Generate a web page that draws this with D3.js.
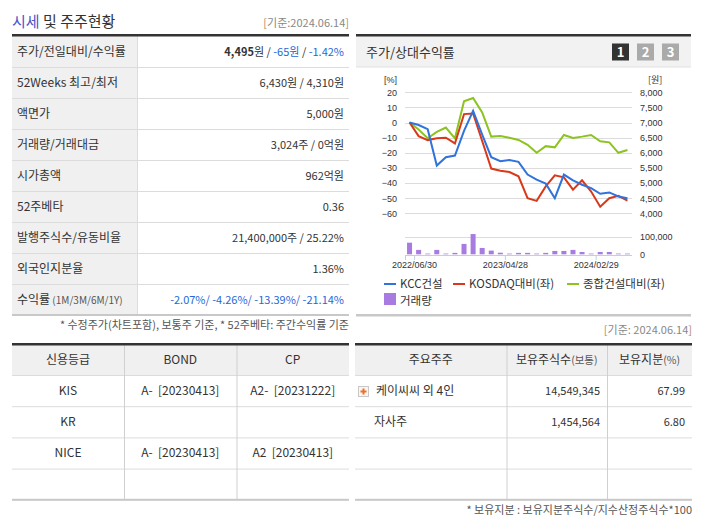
<!DOCTYPE html>
<html>
<head>
<meta charset="utf-8">
<script src="https://cdn.jsdelivr.net/npm/d3@7"></script>
<style>
  body { margin: 0; background: #fff; }
  text { font-family: "Noto Sans CJK KR", sans-serif; white-space: pre; }
  .num text, text.num { font-family: "Liberation Sans", "Noto Sans CJK KR", sans-serif; }
</style>
</head>
<body>
<div id="chart"></div>
<script>
// ---- chart data (month-end closes) ----
const monthEnds = ["2022/05/31","2022/06/30","2022/07/29","2022/08/31","2022/09/30","2022/10/31","2022/11/30","2022/12/29",
  "2023/01/31","2023/02/28","2023/03/31","2023/04/28","2023/05/31","2023/06/30","2023/07/31","2023/08/31","2023/09/27",
  "2023/10/31","2023/11/30","2023/12/28","2024/01/31","2024/02/29","2024/03/29","2024/04/30","2024/05/31"];
const labeledTicks = [0, 1, 11, 21];
const kccPrice = [7000,6920,6780,5580,5855,5910,6725,7390,6600,5855,5720,5765,5700,5280,5110,4980,4500,5280,5090,4945,4835,4645,4690,4555,4495];
const kosdaqRel = [0,-9,-11.6,-10.4,-10,-13.8,5.6,6,-12.2,-30.4,-31.8,-32.7,-35.5,-50,-51.8,-42.2,-34.9,-36.2,-44.4,-38.2,-45.6,-55.6,-50,-48.4,-51.6];
const constrRel = [0,-4.6,-10.4,-6.2,-3.3,-10.4,14,16.2,6.7,-9.3,-8.9,-10,-11.5,-14.7,-20,-15.6,-16.4,-8.2,-10.2,-9.3,-8.2,-12.4,-13.1,-20,-18.2];
const volume = [66000,25000,4000,25000,4000,8000,59000,115000,36000,21000,9000,4000,8000,8000,4000,8000,19000,19000,25000,13000,4000,13000,13000,4000,4000];
const pctTicks = [20,10,0,-10,-20,-30,-40,-50,-60];
const priceTicks = [8000,7500,7000,6500,6000,5500,5000,4500,4000];
const volTicks = [100000, 0];

// ---- table data ----
const infoLabels = ["주가/전일대비/수익률","52Weeks 최고/최저","액면가","거래량/거래대금","시가총액","52주베타","발행주식수/유동비율","외국인지분율","수익률"];
const infoValues = [
  [["4,495","b"],["원 / ",""],["-65원","blue"],[" / ",""],["-1.42%","blue"]],
  [["6,430원 / 4,310원",""]],
  [["5,000원",""]],
  [["3,024주 / 0억원",""]],
  [["962억원",""]],
  [["0.36",""]],
  [["21,400,000주 / 25.22%",""]],
  [["1.36%",""]],
  [["-2.07%/ -4.26%/ -13.39%/ -21.14%","blue"]]
];
const creditHeader = ["신용등급","BOND","CP"];
const creditRows = [["KIS","A-  [20230413]","A2-  [20231222]"],["KR","",""],["NICE","A-  [20230413]","A2  [20230413]"],["","",""]];
const holderHeader = ["주요주주","보유주식수","보유지분"];
const holderHeaderSub = ["","(보통)","(%)"];
const holderRows = [["케이씨씨 외 4인","14,549,345","67.99"],["자사주","1,454,564","6.80"],["","",""],["","",""]];

const BLUE_TXT = "#2468d8", DARK = "#333", GRID = "#dcdcdc", LBG = "#f0f0f0";

const svg = d3.select("#chart").append("svg").attr("width", 702).attr("height", 525);

// ================= left: 시세 및 주주현황 =================
const title = svg.append("text").attr("x", 12).attr("y", 27).attr("font-size", 15);
title.append("tspan").attr("fill", "#4a52c8").text("시세");
title.append("tspan").attr("fill", DARK).text(" 및 주주현황");
const basis = svg.append("text").attr("x", 349).attr("y", 27).attr("text-anchor", "end").attr("font-size", 11).attr("fill", "#888");
basis.append("tspan").attr("fill", "#b08a60").text("[");
basis.append("tspan").text("기준:2024.06.14");
basis.append("tspan").attr("fill", "#b08a60").text("]");

const rowTop = 36, rowH = 31;
const info = svg.append("g");
info.append("rect").attr("x", 12).attr("y", rowTop).attr("width", 125.5).attr("height", rowH * 9).attr("fill", LBG);
infoLabels.forEach((lab, i) => {
  const y = rowTop + i * rowH;
  if (i > 0) info.append("line").attr("x1", 12).attr("x2", 349).attr("y1", y + 0.5).attr("y2", y + 0.5).attr("stroke", GRID);
  const t = info.append("text").attr("x", 17).attr("y", y + 20).attr("font-size", 12).attr("fill", DARK).text(lab);
  if (i === 8) t.append("tspan").attr("font-size", 10).attr("fill", "#555").text(" (1M/3M/6M/1Y)");
  const v = info.append("text").attr("x", 344).attr("y", y + 20).attr("text-anchor", "end").attr("font-size", 11).attr("fill", DARK);
  infoValues[i].forEach(([s, st]) => {
    v.append("tspan").text(s)
      .attr("fill", st === "blue" ? BLUE_TXT : DARK)
      .attr("font-weight", st === "b" ? "bold" : null);
  });
});
info.append("line").attr("x1", 137.5).attr("x2", 137.5).attr("y1", rowTop).attr("y2", rowTop + rowH * 9).attr("stroke", GRID);
svg.append("rect").attr("x", 12).attr("y", 34).attr("width", 337).attr("height", 2.5).attr("fill", DARK);
svg.append("rect").attr("x", 12).attr("y", 314).attr("width", 337).attr("height", 2).attr("fill", "#c8c8c8");
svg.append("text").attr("x", 349).attr("y", 329).attr("text-anchor", "end").attr("font-size", 11).attr("fill", "#555")
  .text("* 수정주가(차트포함), 보통주 기준, * 52주베타: 주간수익률 기준");

// ================= right: 주가/상대수익률 chart =================
svg.append("rect").attr("x", 356).attr("y", 36).attr("width", 335).attr("height", 31).attr("fill", "#f2f2f2");
svg.append("line").attr("x1", 356).attr("x2", 691).attr("y1", 67).attr("y2", 67).attr("stroke", "#e0e0e0");
svg.append("rect").attr("x", 356).attr("y", 34).attr("width", 335).attr("height", 2.5).attr("fill", DARK);
svg.append("text").attr("x", 366).attr("y", 57).attr("font-size", 13).attr("fill", DARK).text("주가/상대수익률");
[["1", "#333"], ["2", "#aaa"], ["3", "#aaa"]].forEach(([n, c], i) => {
  const bx = 612 + i * 25;
  svg.append("rect").attr("x", bx).attr("y", 43.5).attr("width", 17).attr("height", 17).attr("fill", c);
  svg.append("text").attr("x", bx + 8.5).attr("y", 56.5).attr("text-anchor", "middle").attr("font-size", 13)
    .attr("font-weight", "bold").attr("fill", "#fff").attr("font-family", "Liberation Sans").text(n);
});
svg.append("rect").attr("x", 356).attr("y", 314).attr("width", 335).attr("height", 2.5).attr("fill", "#c8c8c8");

const x = d3.scaleLinear().domain([0, monthEnds.length]).range([405, 632]);
const yPct = d3.scaleLinear().domain([-60, 20]).range([213.3, 92.3]);
const yPrice = d3.scaleLinear().domain([4000, 8000]).range([213.3, 92.3]);
const yVol = d3.scaleLinear().domain([0, 100000]).range([254.3, 236.7]);
const cx = i => x(i + 0.5);

const plot = svg.append("g");
plot.selectAll(".grid").data(pctTicks).join("line")
  .attr("x1", 405).attr("x2", 632).attr("y1", d => Math.round(yPct(d)) + 0.5).attr("y2", d => Math.round(yPct(d)) + 0.5)
  .attr("stroke", GRID);
plot.append("line").attr("x1", 405).attr("x2", 632).attr("y1", Math.round(yVol(100000)) + 0.5).attr("y2", Math.round(yVol(100000)) + 0.5).attr("stroke", GRID);

const axL = svg.append("g").attr("class", "num").attr("transform", "translate(399,0)")
  .call(d3.axisLeft(yPct).tickValues(pctTicks).tickSize(0).tickPadding(2));
const axR = svg.append("g").attr("class", "num").attr("transform", "translate(638,0)")
  .call(d3.axisRight(yPrice).tickValues(priceTicks).tickSize(0).tickPadding(2).tickFormat(d3.format(",")));
const axV = svg.append("g").attr("class", "num").attr("transform", "translate(638,0)")
  .call(d3.axisRight(yVol).tickValues(volTicks).tickSize(0).tickPadding(2).tickFormat(d3.format(",")));
[axL, axR, axV].forEach(a => {
  a.select(".domain").remove();
  a.selectAll("text").attr("font-size", 9).attr("fill", DARK);
});
svg.append("text").attr("class", "num").attr("x", 397).attr("y", 83).attr("text-anchor", "end").attr("font-size", 9).attr("fill", DARK).text("[%]");
svg.append("text").attr("x", 648).attr("y", 83).attr("font-size", 9).attr("fill", DARK).text("[원]");

// volume bars
plot.selectAll(".vol").data(volume).join("rect")
  .attr("x", (d, i) => cx(i) - 2.5).attr("width", 5)
  .attr("y", d => yVol(d)).attr("height", d => yVol(0) - yVol(d))
  .attr("fill", "#a77be0");

// x axis
const axX = svg.append("g").attr("class", "num").attr("transform", "translate(0,255)")
  .call(d3.axisBottom(x).tickValues(labeledTicks).tickSize(5).tickPadding(2)
    .tickFormat(i => i === 0 ? "" : monthEnds[i]));
axX.select(".domain").attr("stroke", "#c5cde0").attr("d", "M405,0.5H632");
axX.selectAll(".tick line").attr("stroke", "#c5cde0");
axX.selectAll("text").attr("font-size", 9).attr("fill", DARK);

// lines
const lineGen = (yScale) => d3.line().x((d, i) => cx(i)).y(d => yScale(d));
plot.append("path").datum(constrRel).attr("d", lineGen(yPct)).attr("fill", "none").attr("stroke", "#8cc31f").attr("stroke-width", 2);
plot.append("path").datum(kosdaqRel).attr("d", lineGen(yPct)).attr("fill", "none").attr("stroke", "#d9391a").attr("stroke-width", 2);
plot.append("path").datum(kccPrice).attr("d", lineGen(yPrice)).attr("fill", "none").attr("stroke", "#2f73db").attr("stroke-width", 2);

// legend
const legendItems = [
  { name: "KCC건설", color: "#2f73db", x: 384, y: 288, type: "line" },
  { name: "KOSDAQ대비(좌)", color: "#d9391a", x: 453, y: 288, type: "line" },
  { name: "종합건설대비(좌)", color: "#8cc31f", x: 567, y: 288, type: "line" },
  { name: "거래량", color: "#a77be0", x: 384, y: 305, type: "box" }
];
legendItems.forEach(it => {
  if (it.type === "line") {
    svg.append("line").attr("x1", it.x).attr("x2", it.x + 12).attr("y1", it.y - 4).attr("y2", it.y - 4).attr("stroke", it.color).attr("stroke-width", 2);
  } else {
    svg.append("rect").attr("x", it.x).attr("y", it.y - 12).attr("width", 12).attr("height", 12).attr("fill", it.color);
  }
  svg.append("text").attr("x", it.x + 16).attr("y", it.y).attr("font-size", 11.5).attr("fill", DARK).text(it.name);
});

// ================= bottom tables =================
const tTop = 344, hdrH = 31, bodyRowH = 31.2;
function drawTable(x0, x1, cols, header, headerSub, rows, aligns) {
  const g = svg.append("g");
  g.append("rect").attr("x", x0).attr("y", tTop).attr("width", x1 - x0).attr("height", hdrH).attr("fill", LBG);
  const edges = [x0, ...cols, x1];
  header.forEach((h, j) => {
    const t = g.append("text").attr("x", (edges[j] + edges[j + 1]) / 2).attr("y", tTop + 20)
      .attr("text-anchor", "middle").attr("font-size", 12).attr("fill", DARK).text(h);
    if (headerSub && headerSub[j]) t.append("tspan").attr("font-size", 10.5).attr("fill", "#555").text(headerSub[j]);
  });
  rows.forEach((r, i) => {
    const y = tTop + hdrH + i * bodyRowH;
    g.append("line").attr("x1", x0).attr("x2", x1).attr("y1", y + 0.5).attr("y2", y + 0.5).attr("stroke", GRID);
    r.forEach((v, j) => {
      const a = aligns[j];
      const tx = a.type === "middle" ? (edges[j] + edges[j + 1]) / 2 : a.type === "end" ? edges[j + 1] - a.pad : edges[j] + a.pad;
      g.append("text").attr("x", tx).attr("y", y + 20).attr("text-anchor", a.type)
        .attr("font-size", a.size).attr("fill", DARK).text(v);
    });
  });
  cols.forEach(c => g.append("line").attr("x1", c + 0.5).attr("x2", c + 0.5).attr("y1", tTop).attr("y2", tTop + hdrH + rows.length * bodyRowH).attr("stroke", "#d0d0d0"));
  g.append("rect").attr("x", x0).attr("y", tTop - 1).attr("width", x1 - x0).attr("height", 2.5).attr("fill", DARK);
  g.append("rect").attr("x", x0).attr("y", tTop + hdrH + rows.length * bodyRowH - 1).attr("width", x1 - x0).attr("height", 2).attr("fill", "#c8c8c8");
  return g;
}
drawTable(12, 349, [124, 236.5], creditHeader, null, creditRows,
  [{ type: "middle", size: 12 }, { type: "middle", size: 12 }, { type: "middle", size: 12 }]);
const ht = drawTable(355, 692, [506.5, 607], holderHeader, holderHeaderSub, holderRows,
  [{ type: "start", pad: 21, size: 12 }, { type: "end", pad: 7, size: 11 }, { type: "end", pad: 7, size: 11 }]);
// the 자사주 row has a smaller indent, the first row has the expand icon
ht.selectAll("text").filter(function () { return d3.select(this).text() === "자사주"; }).attr("x", 374);
svg.append("rect").attr("x", 358.5).attr("y", 386.5).attr("width", 10).attr("height", 10).attr("fill", "#f6f6f6").attr("stroke", "#c8c8c8");
svg.append("path").attr("d", "M363.5,388.5v6M360.5,391.5h6").attr("stroke", "#f07020").attr("stroke-width", 2);

const basis2 = svg.append("text").attr("x", 692).attr("y", 334).attr("text-anchor", "end").attr("font-size", 11).attr("fill", "#888");
basis2.append("tspan").attr("fill", "#b08a60").text("[");
basis2.append("tspan").text("기준: 2024.06.14");
basis2.append("tspan").attr("fill", "#b08a60").text("]");
svg.append("text").attr("x", 692).attr("y", 514).attr("text-anchor", "end").attr("font-size", 11).attr("fill", "#555")
  .text("* 보유지분 : 보유지분주식수/지수산정주식수*100");
</script>
</body>
</html>
